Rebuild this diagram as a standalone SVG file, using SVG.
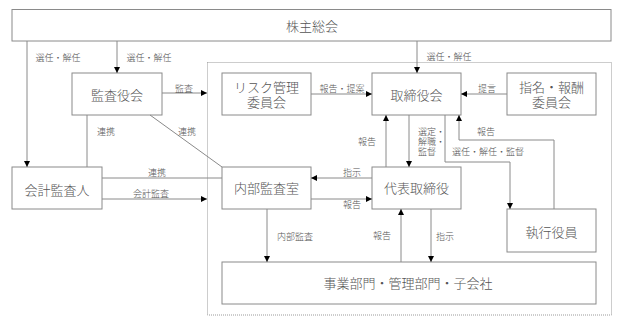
<svg xmlns="http://www.w3.org/2000/svg" width="624" height="325" viewBox="0 0 624 325">
<style>
.box{fill:#fff;stroke:#8a8a8a;stroke-width:1}
.nt{font-family:"Liberation Serif","Noto Sans CJK JP",serif;font-size:13px;font-weight:300;fill:#555;text-anchor:middle;dominant-baseline:central}
.lb{font-family:"Liberation Serif","Noto Sans CJK JP",serif;font-size:9px;font-weight:300;fill:#555;text-anchor:middle;dominant-baseline:central}
.ln{fill:none;stroke:#8a8a8a;stroke-width:1}
.ar{marker-end:url(#ah)}
.dot{fill:none;stroke:#9a9a9a;stroke-width:1;stroke-dasharray:1 1}
</style>
<defs>
<marker id="ah" viewBox="0 0 10 10" refX="10" refY="5" markerWidth="6" markerHeight="6" markerUnits="userSpaceOnUse" orient="auto">
<path d="M0,0 L10,5 L0,10 Z" fill="#000"/>
</marker>
</defs>
<rect width="624" height="325" fill="#fff"/>
<rect class="dot" x="207.5" y="62.5" width="404" height="252.5"/>

<g id="shareholders"><rect class="box" x="12" y="9.5" width="599" height="31.5"/><text class="nt" x="312" y="26">株主総会</text></g>
<g id="auditboard"><rect class="box" x="72" y="73" width="90" height="42"/><text class="nt" x="117" y="95">監査役会</text></g>
<g id="risk"><rect class="box" x="222" y="73" width="89" height="42"/><text class="nt" x="266.5" y="87">リスク管理</text><text class="nt" x="266.5" y="102">委員会</text></g>
<g id="board"><rect class="box" x="372" y="73" width="89" height="42"/><text class="nt" x="416.5" y="95">取締役会</text></g>
<g id="nomination"><rect class="box" x="507" y="73" width="89" height="42"/><text class="nt" x="551.5" y="87">指名・報酬</text><text class="nt" x="551.5" y="102">委員会</text></g>
<g id="accountant"><rect class="box" x="12" y="167" width="90" height="42"/><text class="nt" x="57" y="190">会計監査人</text></g>
<g id="internalaudit"><rect class="box" x="222" y="167" width="89" height="42"/><text class="nt" x="266.5" y="188">内部監査室</text></g>
<g id="representative"><rect class="box" x="372" y="167" width="89" height="42"/><text class="nt" x="416.5" y="188">代表取締役</text></g>
<g id="officers"><rect class="box" x="507" y="209" width="89" height="43"/><text class="nt" x="551.5" y="232">執行役員</text></g>
<g id="departments"><rect class="box" x="222" y="262" width="374" height="42"/><text class="nt" x="408" y="283">事業部門・管理部門・子会社</text></g>

<g id="connectors">
<line class="ln ar" x1="27" y1="41" x2="27" y2="167"/>
<line class="ln ar" x1="117" y1="41" x2="117" y2="73"/>
<line class="ln ar" x1="417" y1="41" x2="417" y2="73"/>
<line class="ln ar" x1="162" y1="93" x2="207" y2="93"/>
<line class="ln ar" x1="311" y1="94" x2="372" y2="94"/>
<line class="ln ar" x1="507" y1="94" x2="461" y2="94"/>
<line class="ln" x1="87" y1="115" x2="87" y2="167"/>
<line class="ln" x1="150" y1="115" x2="222" y2="167"/>
<line class="ln" x1="102" y1="178" x2="222" y2="178"/>
<line class="ln ar" x1="102" y1="199" x2="207" y2="199"/>
<line class="ln ar" x1="372" y1="178" x2="311" y2="178"/>
<line class="ln ar" x1="311" y1="199" x2="372" y2="199"/>
<line class="ln ar" x1="386" y1="167" x2="386" y2="115"/>
<line class="ln ar" x1="409" y1="115" x2="409" y2="167"/>
<polyline class="ln ar" points="445,115 445,162 510,162 510,209"/>
<polyline class="ln ar" points="554,209 554,140 459,140 459,115"/>
<line class="ln ar" x1="267" y1="209" x2="267" y2="262"/>
<line class="ln ar" x1="401" y1="262" x2="401" y2="209"/>
<line class="ln ar" x1="431" y1="209" x2="431" y2="262"/>
</g>

<g id="labels">
<text class="lb" x="58" y="58">選任・解任</text>
<text class="lb" x="149" y="58">選任・解任</text>
<text class="lb" x="449" y="57">選任・解任</text>
<text class="lb" x="184" y="89">監査</text>
<text class="lb" x="342" y="89">報告・提案</text>
<text class="lb" x="487" y="89">提言</text>
<text class="lb" x="106" y="132">連携</text>
<text class="lb" x="187" y="132">連携</text>
<text class="lb" x="157" y="173">連携</text>
<text class="lb" x="151" y="194">会計監査</text>
<text class="lb" x="367" y="142">報告</text>
<text class="lb" x="418" y="132" style="text-anchor:start">選定・</text>
<text class="lb" x="418" y="142" style="text-anchor:start">解職・</text>
<text class="lb" x="418" y="152" style="text-anchor:start">監督</text>
<text class="lb" x="486" y="132">報告</text>
<text class="lb" x="488" y="152">選任・解任・監督</text>
<text class="lb" x="352" y="173">指示</text>
<text class="lb" x="352" y="205">報告</text>
<text class="lb" x="295" y="237">内部監査</text>
<text class="lb" x="382" y="236">報告</text>
<text class="lb" x="445" y="237">指示</text>
</g>
</svg>
